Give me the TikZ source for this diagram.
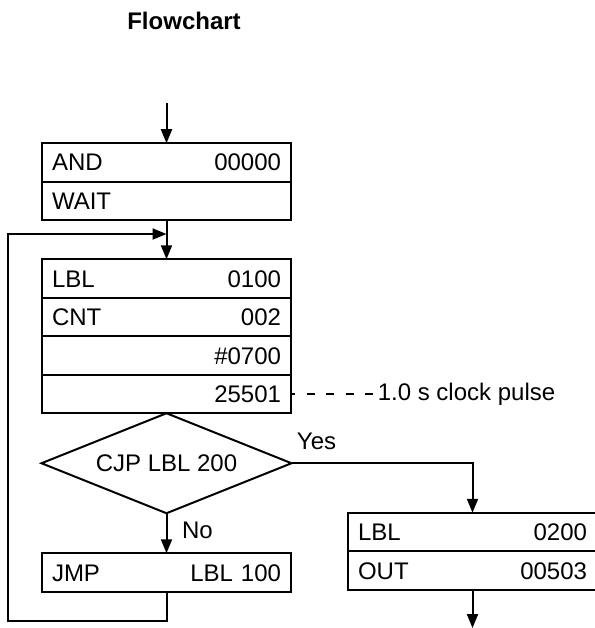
\documentclass[tikz,border=0pt]{standalone}
\usepackage{fontspec}
\setmainfont{Liberation Sans}
\usetikzlibrary{positioning,shapes.geometric,arrows.meta}

\newcommand{\chartfont}{\fontsize{24}{28}\selectfont}
\tikzset{
  row/.style={draw, rectangle, line width=2pt, outer sep=0pt, minimum width=249pt, minimum height=38.5pt,
    inner xsep=10pt, text width=229pt, text height=17pt, text depth=0pt, align=left},
  decide/.style={draw, diamond, aspect=2.5, line width=2pt, outer sep=0pt, inner sep=0pt, minimum width=250pt, minimum height=100pt},
  flow/.style={line width=2pt, -{Triangle[length=14pt,width=11pt]}},
  every node/.style={font=\chartfont},
}

\begin{document}
\begin{tikzpicture}[x=1pt,y=1pt]
\useasboundingbox (0,0) rectangle (594,-628);
\node[font=\chartfont\bfseries] (title) at (184,-21) {Flowchart};
\coordinate (start) at (166.5,-103);
\node[row] (and) at (166.5,-162.5) {AND\hfill 00000};
\node[row, below=0pt of and] (wait) {WAIT};
\node[row] (lbl) at (166.5,-278.5) {LBL\hfill 0100};
\node[row, below=0pt of lbl] (cnt) {CNT\hfill 002};
\node[row, below=0pt of cnt] (con) {\hfill\#0700};
\node[row, below=0pt of con] (clk) {\hfill 25501};
\node[decide, below=0pt of clk] (cjp) {CJP LBL 200};
\node[row, below=40pt of cjp] (jmp) {JMP\hfill LBL 100};
\node[row] (lbl2) at (472.5,-532) {LBL\hfill 0200};
\node[row, below=0pt of lbl2] (out) {OUT\hfill 00503};
\node (pulse) at (466.5,-394) {1.0 s clock pulse};
\node (yes) at (316.5,-441) {Yes};
\node (no) at (197.5,-530) {No};
\coordinate (merge) at (166.5,-234);
\coordinate (loop) at (8,-621);
\coordinate (exit) at (472.5,-628);

\draw[flow] (start) -- (and.north);
\draw[flow] (wait.south) -- (lbl.north);
\draw[flow] (cjp.south) -- (jmp.north);
\draw[flow] (cjp.east) -| (lbl2.north);
\draw[flow] (out.south) -- (exit);
\draw[flow] (jmp.south) |- (loop) |- (merge);
\draw[line width=1.3pt, dash pattern=on 8pt off 11.5pt, dash phase=4pt] (clk.east) -- (pulse.west);
\end{tikzpicture}
\end{document}
